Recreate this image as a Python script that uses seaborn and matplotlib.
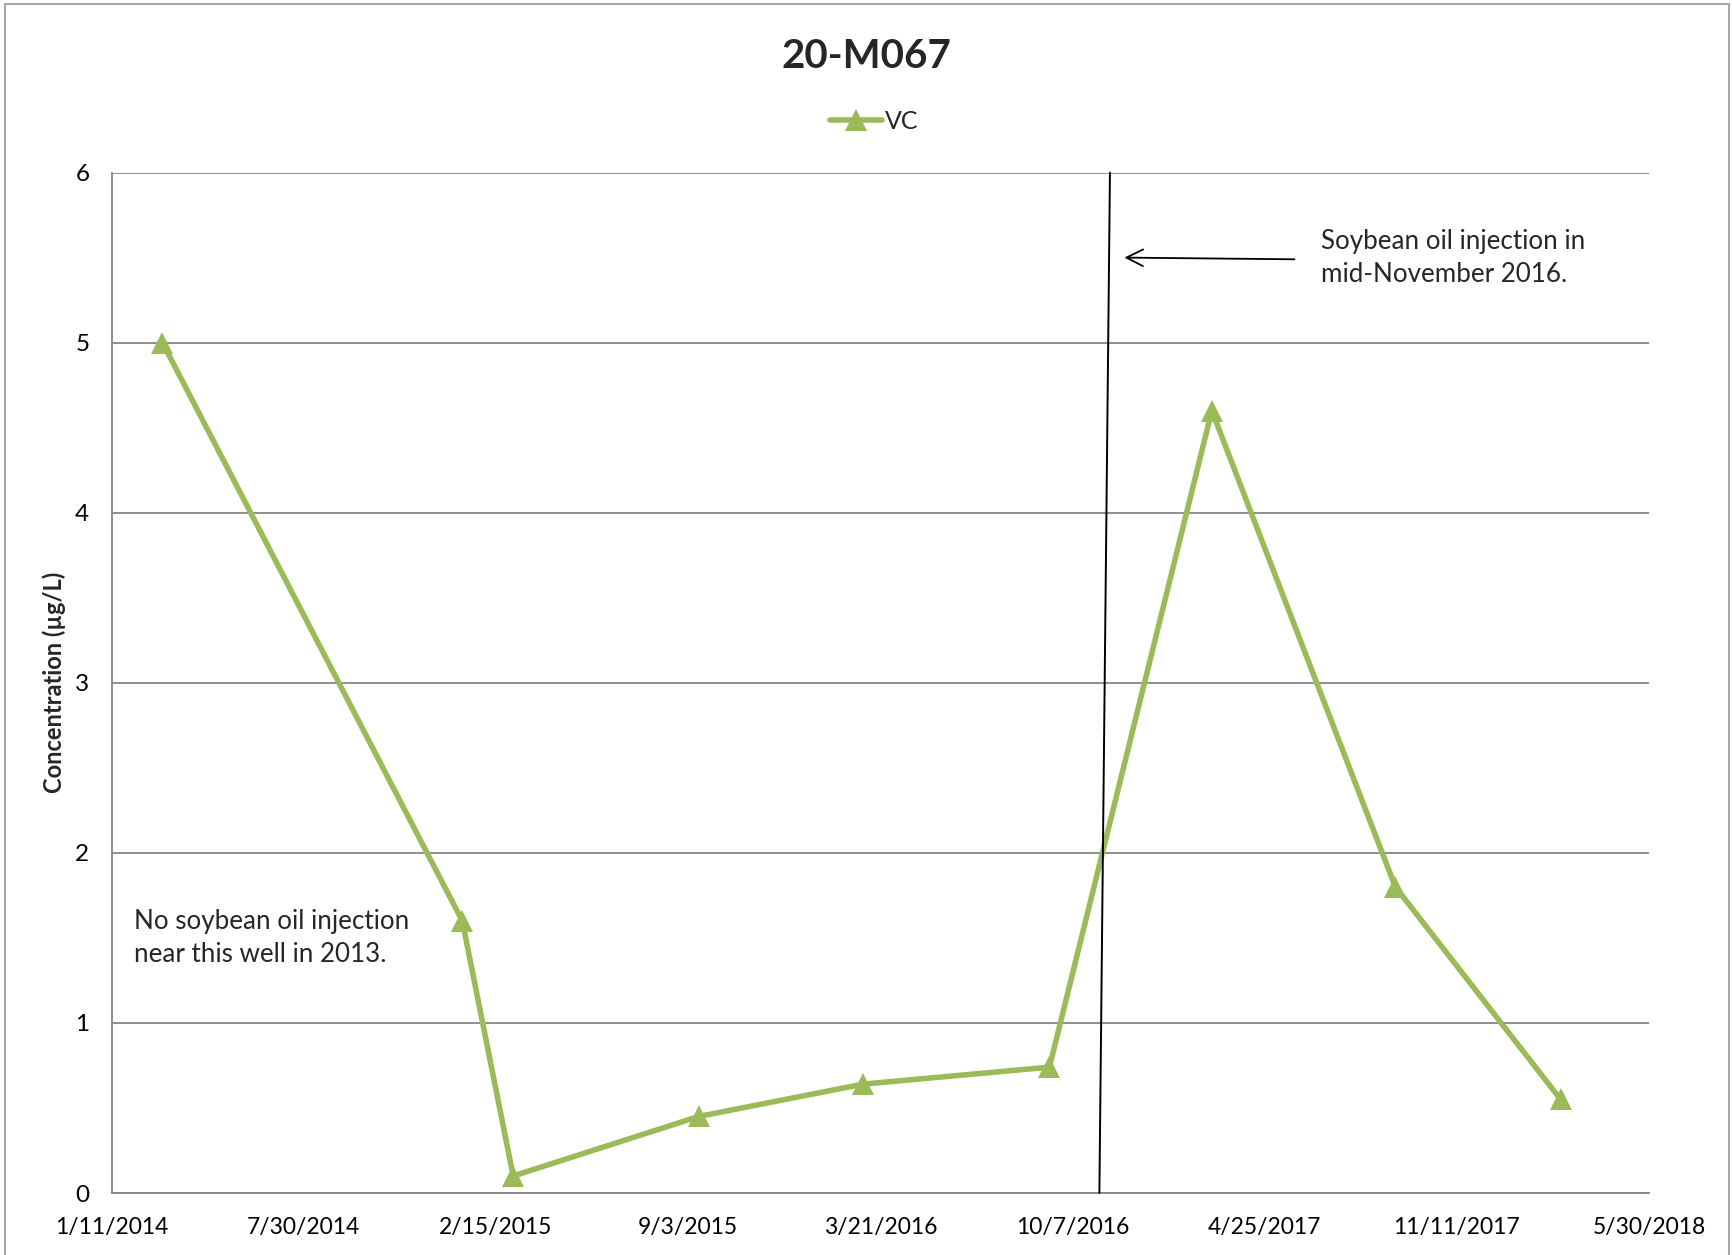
import matplotlib
matplotlib.use("Agg")
import matplotlib.pyplot as plt
from matplotlib.patches import Rectangle
from matplotlib.lines import Line2D
import seaborn as sns
import pandas as pd

# Sample dates and vinyl chloride concentrations (µg/L) for well 20-M067
sample_dates = ["2014-03-05", "2015-01-11", "2015-03-05", "2015-09-14", "2016-03-03",
                "2016-09-13", "2017-03-01", "2017-09-08", "2018-02-27"]
vc_values = [5.0, 1.6, 0.1, 0.45, 0.64, 0.74, 4.6, 1.8, 0.55]

# Date axis range and tick step (days)
x_start = "2014-01-11"
x_end = "2018-05-30"
tick_step_days = 200
y_ticks = [0, 1, 2, 3, 4, 5, 6]

# Injection marker line (hand-placed, slightly slanted) and its pointer arrow
inj_top = ("2016-11-15", 6.0)
inj_bottom = ("2016-11-04", 0.0)
arrow_tail = ("2017-05-26", 5.49)
arrow_head = ("2016-11-30", 5.50)

title = "20-M067"
series_name = "VC"
ylabel = "Concentration (µg/L)"
note_right = "Soybean oil injection in\nmid-November 2016."
note_left = "No soybean oil injection\nnear this well in 2013."

GREEN = "#9BBB59"
GRID = "#868686"

sns.set_theme(style="white")
plt.rcParams["font.family"] = ["Lato", "DejaVu Sans"]

df = pd.DataFrame({"date": pd.to_datetime(sample_dates), series_name: vc_values})

fig = plt.figure(figsize=(17.32, 12.55), dpi=100)
ax = fig.add_axes([0.0644, 0.0494, 0.8877, 0.8131])

sns.lineplot(data=df, x="date", y=series_name, ax=ax, color=GREEN, linewidth=4.0,
             marker="^", markersize=16, markeredgewidth=0, markerfacecolor=GREEN,
             legend=False, zorder=3)

x0 = pd.Timestamp(x_start)
x1 = pd.Timestamp(x_end)
ax.set_xlim(x0, x1)
ax.set_ylim(0, 6)

xticks = pd.date_range(x0, x1, freq=f"{tick_step_days}D")
ax.set_xticks(xticks)
ax.set_xticklabels([f"{d.month}/{d.day}/{d.year}" for d in xticks])
ax.set_yticks(y_ticks)
ax.set_yticklabels([str(v) for v in y_ticks])

ax.tick_params(axis="both", labelsize=16.5, labelcolor="black", color=GRID,
               length=8, width=1.3, direction="out")
ax.tick_params(axis="x", pad=9)
ax.tick_params(axis="y", pad=8, labelsize=17.5)
ax.yaxis.grid(True, color=GRID, linewidth=1.3)
ax.xaxis.grid(False)
for side in ("top", "right"):
    ax.spines[side].set_visible(False)
for side in ("left", "bottom"):
    ax.spines[side].set_color(GRID)
    ax.spines[side].set_linewidth(1.3)

ax.set_xlabel("")
ax.set_ylabel(ylabel, fontsize=17, fontweight="bold")
ax.yaxis.set_label_coords(-0.0295, 0.5)

# Injection timing line and arrow
ax.plot([pd.Timestamp(inj_top[0]), pd.Timestamp(inj_bottom[0])],
        [inj_top[1], inj_bottom[1]], color="black", linewidth=1.4, zorder=4,
        clip_on=False)
ax.annotate("", xy=(pd.Timestamp(arrow_head[0]), arrow_head[1]),
            xytext=(pd.Timestamp(arrow_tail[0]), arrow_tail[1]),
            arrowprops=dict(arrowstyle="->", color="black", lw=1.3,
                            mutation_scale=30, shrinkA=0, shrinkB=0))

ax.text(pd.Timestamp("2017-06-23"), 5.50, note_right, fontsize=18.7,
        ha="left", va="center", linespacing=1.4)
ax.text(pd.Timestamp("2014-02-03"), 1.50, note_left, fontsize=18.7,
        ha="left", va="center", linespacing=1.4)

fig.text(0.5, 0.955, title, ha="center", va="center", fontsize=29,
         fontweight="bold")

handle = Line2D([], [], color=GREEN, linewidth=4.0, marker="^", markersize=16,
                markeredgewidth=0)
fig.legend([handle], [series_name], loc="center", bbox_to_anchor=(0.5045, 0.903),
           frameon=False, fontsize=18, handlelength=2.1, handletextpad=0.1)

# Chart area border
fig.add_artist(Rectangle((5 / 1732, -0.01), (1729 - 5) / 1732, 1.01 - 4 / 1255,
                         transform=fig.transFigure, fill=False,
                         edgecolor="#A6A6A6", linewidth=1.5))

fig.savefig("out.png", dpi=100)
